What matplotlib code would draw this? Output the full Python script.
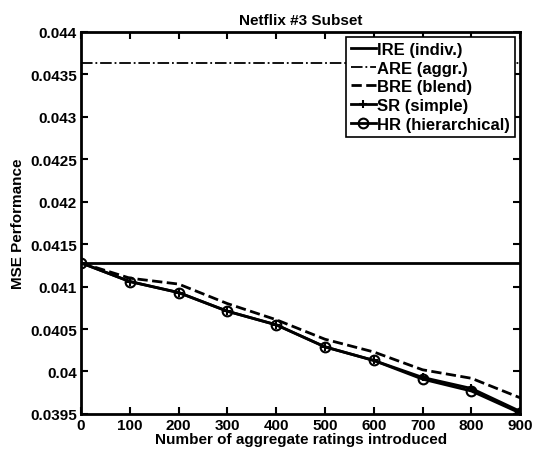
import numpy as np
import matplotlib.pyplot as plt

plt.rcParams['font.family'] = ['Liberation Sans', 'DejaVu Sans']
plt.rcParams['font.weight'] = 'bold'

# 資料
n_agg = [0, 100, 200, 300, 400, 500, 600, 700, 800, 900]
ire = 0.04128
are = 0.04363
bre = [0.04128, 0.04110, 0.04103, 0.04080, 0.04061, 0.04038, 0.04023, 0.04002, 0.03992, 0.03969]
sr = [0.04128, 0.04106, 0.04093, 0.04071, 0.04055, 0.04029, 0.04013, 0.03993, 0.03980, 0.03953]
hr = [0.04128, 0.04106, 0.04093, 0.04071, 0.04055, 0.04029, 0.04013, 0.03991, 0.03977, 0.03951]

fig = plt.figure(figsize=(5.33, 4.52), dpi=100)
ax = fig.add_axes([0.152, 0.082, 0.824, 0.845])

ax.plot([0, 900], [ire, ire], '-', color='black', lw=2, label='IRE (indiv.)')
ax.plot([0, 900], [are, are], '-.', color='black', lw=1.3, label='ARE (aggr.)')
ax.plot(n_agg, bre, '--', color='black', lw=2, label='BRE (blend)')
ax.plot(n_agg, sr, '-', color='black', lw=2, marker='+', ms=6, mew=1.5, label='SR (simple)')
ax.plot(n_agg, hr, '-', color='black', lw=2, marker='o', ms=7, mew=1.5,
        mfc='none', label='HR (hierarchical)')

ax.set_xlim(0, 900)
ax.set_ylim(0.0395, 0.044)
ax.set_xticks(n_agg)
ax.set_yticks(np.arange(0.0395, 0.04401, 0.0005))
ax.set_yticklabels(['0.0395', '0.04', '0.0405', '0.041', '0.0415', '0.042',
                    '0.0425', '0.043', '0.0435', '0.044'])
ax.tick_params(direction='in', top=True, right=True, length=5, width=1.5,
               labelsize=11, pad=3)
for s in ax.spines.values():
    s.set_linewidth(2)

ax.set_xlabel('Number of aggregate ratings introduced', fontsize=11, fontweight='bold', labelpad=0)
ax.set_ylabel('MSE Performance', fontsize=11, fontweight='bold', labelpad=4)
ax.set_title('Netflix #3 Subset', fontsize=11, fontweight='bold', pad=6)

leg = ax.legend(loc='upper right', fontsize=12, handlelength=1.5, handletextpad=0.1,
                borderpad=0.3, labelspacing=0.22, fancybox=False, framealpha=1,
                borderaxespad=0.3)
leg.get_frame().set_edgecolor('black')
leg.get_frame().set_linewidth(1.2)

fig.savefig('out.png', dpi=100)
